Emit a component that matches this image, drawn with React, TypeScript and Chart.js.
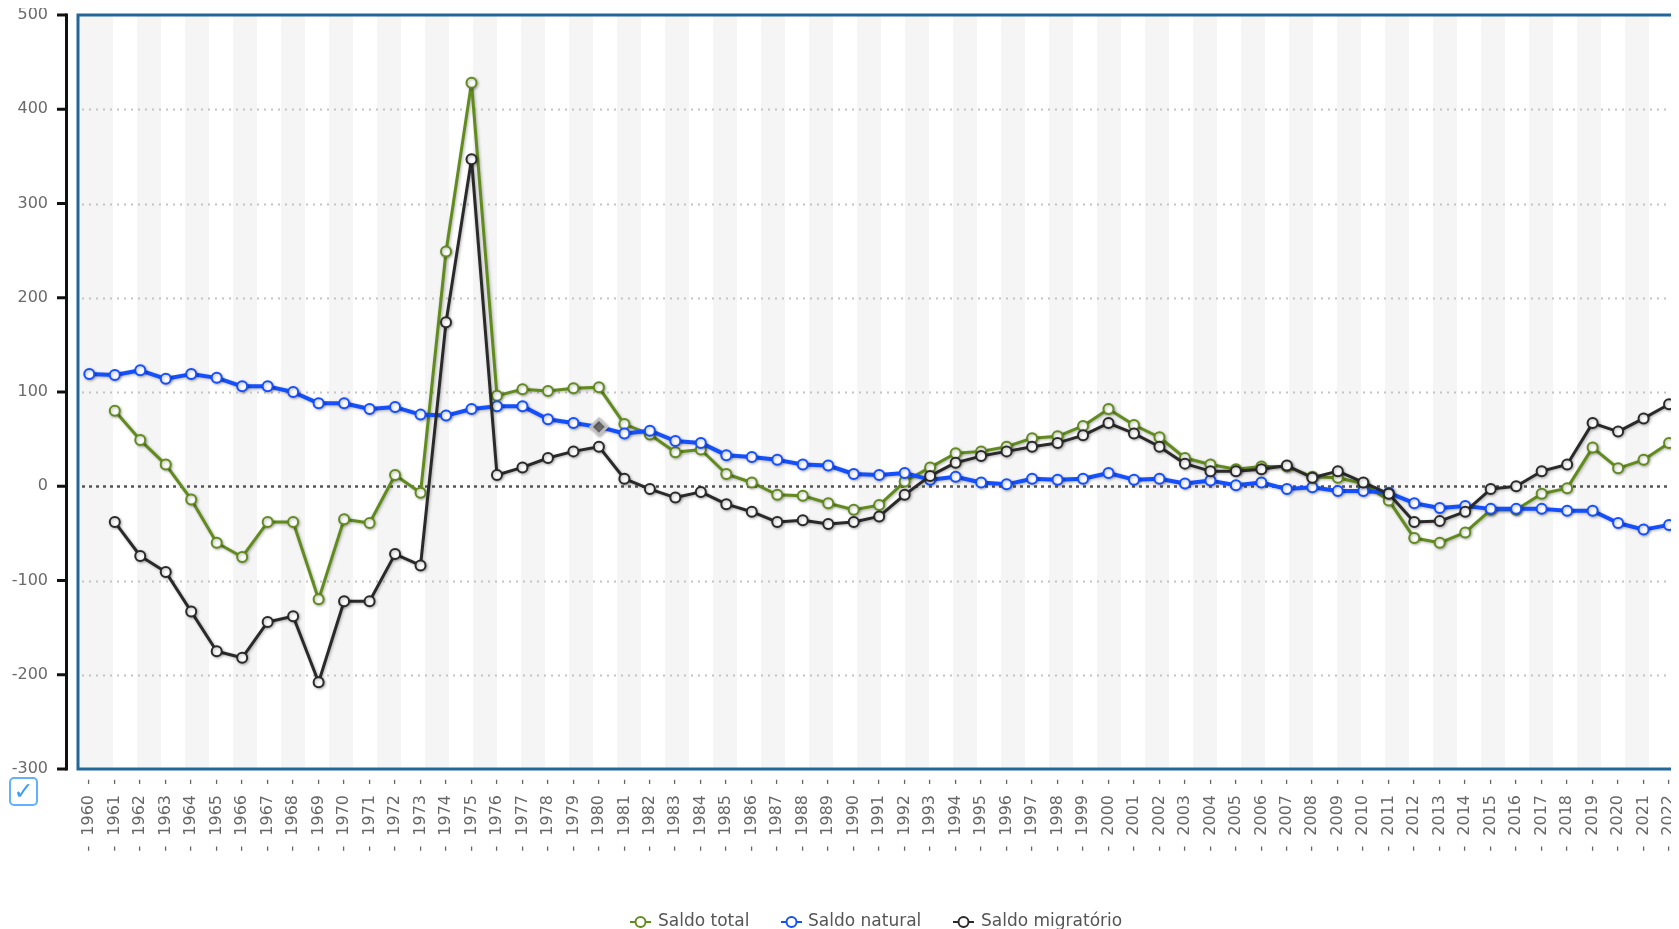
import React, { useEffect, useRef } from "react";
import { Chart, registerables } from "chart.js";

Chart.register(...registerables);

const years: number[] = [];
for (let y = 1960; y <= 2022; y++) years.push(y);

const saldoTotal: (number | null)[] = [
  null, 80, 49, 23, -14, -60, -75, -38, -38, -120,
  -35, -39, 12, -7, 249, 428, 96, 103, 101, 104,
  105, 66, 55, 36, 39, 13, 4, -9, -10, -18,
  -25, -20, 5, 20, 35, 37, 42, 51, 53, 64,
  82, 65, 52, 30, 23, 18, 21, 21, 10, 9,
  3, -15, -55, -60, -49, -25, -25, -8, -2, 41,
  19, 28, 46,
];

const saldoNatural: (number | null)[] = [
  119, 118, 123, 114, 119, 115, 106, 106, 100, 88,
  88, 82, 84, 76, 75, 82, 85, 85, 71, 67,
  63, 56, 59, 48, 46, 33, 31, 28, 23, 22,
  13, 12, 14, 7, 10, 4, 2, 8, 7, 8,
  14, 7, 8, 3, 6, 1, 4, -3, -1, -5,
  -5, -7, -18, -23, -21, -24, -24, -24, -26, -26,
  -39, -46, -41,
];

const saldoMigratorio: (number | null)[] = [
  null, -38, -74, -91, -133, -175, -182, -144, -138, -208,
  -122, -122, -72, -84, 174, 347, 12, 20, 30, 37,
  42, 8, -3, -12, -6, -19, -27, -38, -36, -40,
  -38, -32, -9, 11, 25, 32, 37, 42, 46, 54,
  67, 56, 42, 24, 16, 16, 18, 22, 9, 16,
  4, -8, -38, -37, -27, -3, 0, 16, 23, 67,
  58, 72, 87,
];

const yTicks = [500, 400, 300, 200, 100, 0, -100, -200, -300];
const seriesNames = ["Saldo total", "Saldo natural", "Saldo migratório"];
const seriesColors = ["#628b1d", "#1550ff", "#2a2a2a"];
const highlightIndex = 20; // 1980

const FONT = "'DejaVu Sans', Verdana, sans-serif";

export default function App() {
  const ref = useRef<HTMLCanvasElement | null>(null);

  useEffect(() => {
    document.documentElement.style.overflow = "hidden";
    document.body.style.overflow = "hidden";
    const canvas = ref.current!;
    const toPts = (arr: (number | null)[]) =>
      years.map((x, i) => ({ x, y: arr[i] }));

    const bgPlugin = {
      id: "bg",
      beforeDatasetsDraw(chart: any) {
        const { ctx, chartArea } = chart;
        const { left, right, top, bottom } = chartArea;
        const yS = chart.scales.y;
        ctx.save();
        ctx.fillStyle = "#f5f5f5";
        ctx.fillRect(left, top, 105 - left, bottom - top);
        for (let x = 129; x < right; x += 48) {
          ctx.fillRect(x, top, Math.min(24, right - x), bottom - top);
        }
        yTicks.forEach((v) => {
          if (v === 500 || v === -300) return;
          const y = Math.round(yS.getPixelForValue(v)) + 0.5;
          ctx.beginPath();
          if (v === 0) {
            ctx.strokeStyle = "#555";
            ctx.lineWidth = 2.5;
            ctx.setLineDash([3, 4]);
          } else {
            ctx.strokeStyle = "#c4c4c4";
            ctx.lineWidth = 2;
            ctx.setLineDash([2, 5]);
          }
          ctx.moveTo(left + 4, y);
          ctx.lineTo(right, y);
          ctx.stroke();
        });
        ctx.restore();
      },
      beforeDatasetDraw(chart: any) {
        const ctx = chart.ctx;
        ctx.save();
        ctx.shadowColor = "rgba(0,0,0,0.3)";
        ctx.shadowBlur = 3;
        ctx.shadowOffsetX = 1;
        ctx.shadowOffsetY = 1;
      },
      afterDatasetDraw(chart: any) {
        chart.ctx.restore();
      },
      afterDraw(chart: any) {
        const { ctx, chartArea } = chart;
        const { left, right, top, bottom } = chartArea;
        const yS = chart.scales.y;
        ctx.save();
        ctx.strokeStyle = "#22679a";
        ctx.lineWidth = 3;
        ctx.strokeRect(left, top, right - left, bottom - top);
        ctx.strokeStyle = "#111";
        ctx.lineWidth = 3;
        ctx.beginPath();
        ctx.moveTo(58.5, top - 1.5);
        ctx.lineTo(58.5, bottom + 1.5);
        ctx.stroke();
        yTicks.forEach((v) => {
          const y = yS.getPixelForValue(v);
          ctx.beginPath();
          ctx.moveTo(49, y);
          ctx.lineTo(58.5, y);
          ctx.stroke();
        });
        // legend
        const ly = 914;
        const items = [
          { sx: 622, tx: 650 },
          { sx: 773, tx: 800 },
          { sx: 945, tx: 973 },
        ];
        ctx.font = `17px ${FONT}`;
        ctx.textBaseline = "middle";
        ctx.textAlign = "left";
        items.forEach((it, i) => {
          ctx.strokeStyle = seriesColors[i];
          ctx.lineWidth = 2;
          ctx.beginPath();
          ctx.moveTo(it.sx, ly);
          ctx.lineTo(it.sx + 21, ly);
          ctx.stroke();
          ctx.beginPath();
          ctx.arc(it.sx + 10.5, ly, 5, 0, Math.PI * 2);
          ctx.fillStyle = "#fff";
          ctx.fill();
          ctx.stroke();
          ctx.fillStyle = "#555";
          ctx.fillText(seriesNames[i], it.tx, ly);
        });
        ctx.restore();
      },
    };

    const mkDs = (i: number, data: (number | null)[], order: number, width: number) => ({
      label: seriesNames[i],
      data: toPts(data),
      borderColor: seriesColors[i],
      borderWidth: width,
      borderJoinStyle: "round" as const,
      backgroundColor: "#fff",
      pointBackgroundColor: "#fff",
      pointBorderColor: seriesColors[i],
      pointBorderWidth: 2,
      pointRadius: 5,
      pointHoverRadius: 5,
      tension: 0,
      spanGaps: false,
      order,
      clip: false as any,
    });

    const natural: any = mkDs(1, saldoNatural, 1, 4);
    natural.pointStyle = (c: any) => (c.dataIndex === highlightIndex ? "rectRot" : "circle");
    natural.pointRadius = (c: any) => (c.dataIndex === highlightIndex ? 8 : 5);
    natural.pointBackgroundColor = (c: any) => (c.dataIndex === highlightIndex ? "#6a6a6a" : "#fff");
    natural.pointBorderColor = (c: any) =>
      c.dataIndex === highlightIndex ? "rgba(200,200,200,0.9)" : seriesColors[1];
    natural.pointBorderWidth = (c: any) => (c.dataIndex === highlightIndex ? 3 : 2);

    const xMin = 1960 - 11.3 / 25.48;
    const xMax = xMin + 1607 / 25.48;

    const chart = new Chart(canvas, {
      type: "line",
      data: {
        datasets: [
          mkDs(0, saldoTotal, 2, 3),
          natural,
          mkDs(2, saldoMigratorio, 0, 3),
        ],
      },
      options: {
        responsive: false,
        animation: false,
        events: [],
        layout: { padding: { left: 0, top: 7, right: 23, bottom: 69 } },
        plugins: {
          legend: { display: false },
          tooltip: { enabled: false },
        },
        scales: {
          x: {
            type: "linear",
            min: xMin,
            max: xMax,
            grid: { display: false, drawTicks: false },
            border: { display: false },
            afterBuildTicks: (s: any) => {
              s.ticks = years.map((v) => ({ value: v }));
            },
            afterFit: (s: any) => {
              s.height = 100;
              s.paddingLeft = 0;
              s.paddingRight = 0;
            },
            ticks: {
              autoSkip: false,
              minRotation: 90,
              maxRotation: 90,
              padding: 10,
              color: "#666",
              font: { family: FONT, size: 16 },
              callback: (v: any) => `-  ${v}  -`,
            },
          },
          y: {
            min: -300,
            max: 500,
            grid: { display: false, drawTicks: false },
            border: { display: false },
            afterFit: (s: any) => {
              s.width = 70;
              s.paddingTop = 0;
              s.paddingBottom = 0;
            },
            ticks: {
              stepSize: 100,
              padding: 30,
              color: "#6a6a6a",
              font: { family: FONT, size: 16 },
            },
          },
        },
      },
      plugins: [bgPlugin],
    });
    return () => chart.destroy();
  }, []);

  return (
    <div style={{ position: "relative", width: 1700, height: 930 }}>
      <canvas ref={ref} width={1700} height={930} style={{ width: 1700, height: 930, display: "block" }} />
      <div
        style={{
          position: "absolute",
          left: 1,
          top: 769,
          width: 25,
          height: 25,
          border: "2px solid #62b0ff",
          borderRadius: 5,
          color: "#3c9cff",
          fontSize: 24,
          lineHeight: "25px",
          textAlign: "center",
          fontFamily: FONT,
        }}
      >
        ✓
      </div>
    </div>
  );
}
